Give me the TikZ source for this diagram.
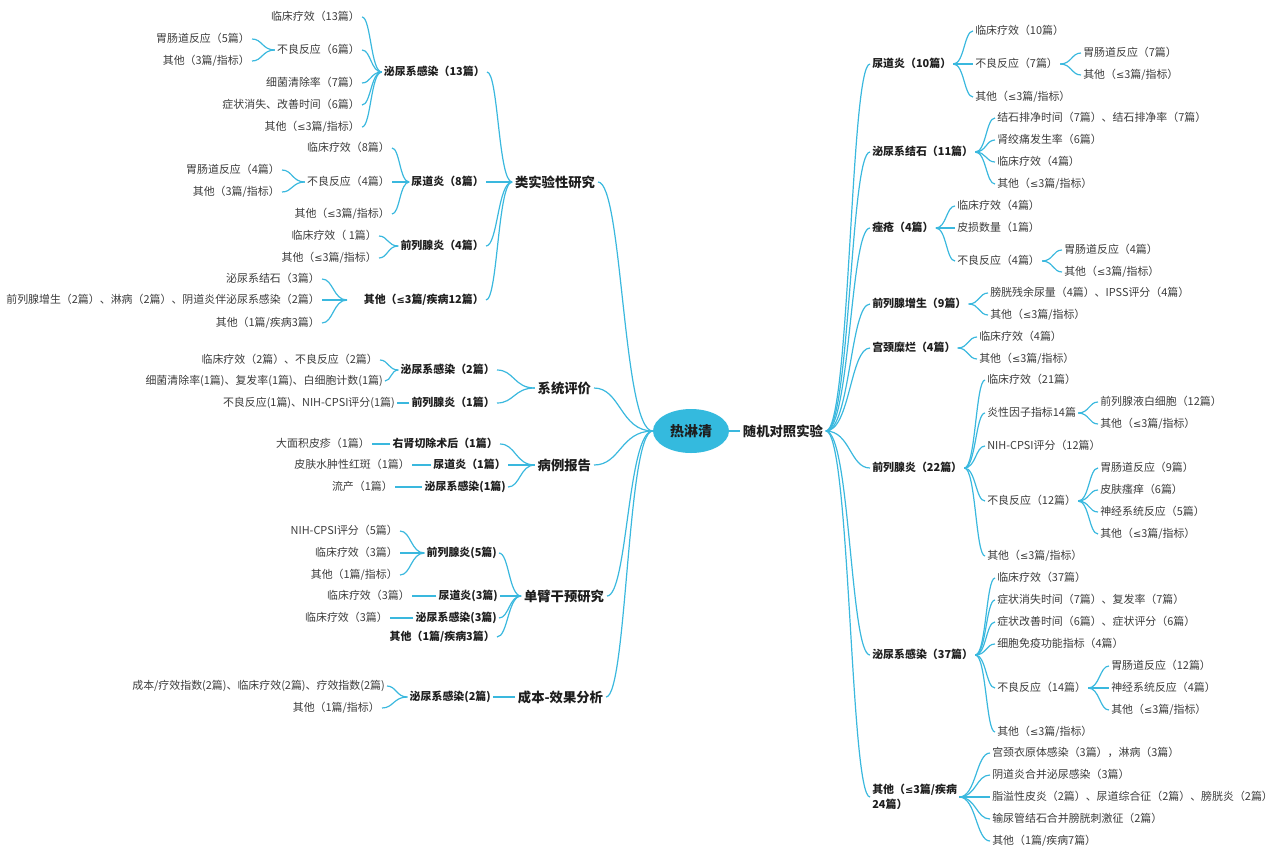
\documentclass[tikz,border=0pt]{standalone}
\usepackage{fontspec}
\setmainfont{Noto Sans CJK SC}
\newfontfamily\symf{DejaVu Sans}
\newcommand\lte{{\symf\fontsize{7.4pt}{9pt}\selectfont ≤}}
\usetikzlibrary{calc,shapes.geometric}
\definecolor{lc}{RGB}{58,184,222}
\definecolor{ell}{RGB}{52,186,222}
\definecolor{txt}{RGB}{60,60,60}
\definecolor{bt}{RGB}{30,30,30}
\newcommand\cx[2]{\draw[link] let \p1=(#1), \p2=(#2) in (\p1) .. controls ({0.45*\x1+0.55*\x2},\y1) and ({0.45*\x1+0.55*\x2},\y2) .. (\p2);}
\tikzset{
  lf/.style={font=\fontsize{8.2pt}{9.5pt}\selectfont, text=txt, inner sep=1.5pt, text height=6.6pt, text depth=1.6pt},
  bd/.style={font=\fontsize{8.2pt}{9.5pt}\selectfont\bfseries, text=bt, inner sep=1.5pt, text height=6.6pt, text depth=1.6pt},
  bd1/.style={font=\fontsize{10pt}{12pt}\selectfont\bfseries, text=bt, inner sep=2pt},
  L/.style={anchor=east}, R/.style={anchor=west},
  link/.style={draw=lc, line width=0.9pt}
}
\begin{document}
\begin{tikzpicture}[x=0.75pt,y=-0.75pt]
\useasboundingbox (0,0) rectangle (1279,847);
% centre
\node[ellipse, fill=ell, minimum width=57pt, minimum height=33pt, inner sep=0pt, font=\fontsize{10.5pt}{12pt}\selectfont\bfseries, text=bt] (E) at (691,431) {热淋清};
% ===== left level 1
\node[bd1,L] (Q) at (598,182) {类实验性研究};
\node[bd1,L] (S) at (594,388) {系统评价};
\node[bd1,L] (B) at (594,465) {病例报告};
\node[bd1,L] (D) at (607,596) {单臂干预研究};
\node[bd1,L] (C) at (606,697) {成本-效果分析};
% Q group
\node[bd,L] (Q1) at (487,72) {泌尿系感染（13篇）};
\node[lf,L] (Q11) at (362,17) {临床疗效（13篇）};
\node[lf,L] (Q12) at (362,50) {不良反应（6篇）};
\node[lf,L] (Q121) at (252,39) {胃肠道反应（5篇）};
\node[lf,L] (Q122) at (252,61) {其他（3篇/指标）};
\node[lf,L] (Q13) at (362,83) {细菌清除率（7篇）};
\node[lf,L] (Q14) at (362,105) {症状消失、改善时间（6篇）};
\node[lf,L] (Q15) at (362,127) {其他（\lte3篇/指标）};
\node[bd,L] (Q2) at (486,182) {尿道炎（8篇）};
\node[lf,L] (Q21) at (392,148) {临床疗效（8篇）};
\node[lf,L] (Q22) at (392,182) {不良反应（4篇）};
\node[lf,L] (Q221) at (282,170) {胃肠道反应（4篇）};
\node[lf,L] (Q222) at (282,192) {其他（3篇/指标）};
\node[lf,L] (Q23) at (392,214) {其他（\lte3篇/指标）};
\node[bd,L] (Q3) at (486,246) {前列腺炎（4篇）};
\node[lf,L] (Q31) at (379,236) {临床疗效（ 1篇）};
\node[lf,L] (Q32) at (379,258) {其他（\lte3篇/指标）};
\node[bd,L] (Q4) at (486,300) {其他（\lte3篇/疾病12篇）};
\coordinate (Q4j) at (347,300);
\node[lf,L] (Q41) at (322,279) {泌尿系结石（3篇）};
\node[lf,L] (Q42) at (322,300) {前列腺增生（2篇）、淋病（2篇）、阴道炎伴泌尿系感染（2篇）};
\node[lf,L] (Q43) at (322,323) {其他（1篇/疾病3篇）};
% S group
\node[bd,L] (S1) at (497,370) {泌尿系感染（2篇）};
\node[lf,L] (S11) at (380,360) {临床疗效（2篇）、不良反应（2篇）};
\node[lf,L] (S12) at (385,381) {细菌清除率(1篇)、复发率(1篇)、白细胞计数(1篇)};
\node[bd,L] (S2) at (497,403) {前列腺炎（1篇）};
\node[lf,L] (S21) at (397,403) {不良反应(1篇)、NIH-CPSI评分(1篇)};
% B group
\node[bd,L] (B1) at (500,444) {右肾切除术后（1篇）};
\node[lf,L] (B11) at (372,444) {大面积皮疹（1篇）};
\node[bd,L] (B2) at (508,465) {尿道炎（1篇）};
\node[lf,L] (B21) at (412,465) {皮肤水肿性红斑（1篇）};
\node[bd,L] (B3) at (508,487) {泌尿系感染(1篇)};
\node[lf,L] (B31) at (395,487) {流产（1篇）};
% D group
\node[bd,L] (D1) at (499,553) {前列腺炎(5篇)};
\node[lf,L] (D11) at (400,531) {NIH-CPSI评分（5篇）};
\node[lf,L] (D12) at (400,553) {临床疗效（3篇）};
\node[lf,L] (D13) at (400,575) {其他（1篇/指标）};
\node[bd,L] (D2) at (500,596) {尿道炎(3篇)};
\node[lf,L] (D21) at (412,596) {临床疗效（3篇）};
\node[bd,L] (D3) at (499,618) {泌尿系感染(3篇)};
\node[lf,L] (D31) at (390,618) {临床疗效（3篇）};
\node[bd,L] (D4) at (497,637) {其他（1篇/疾病3篇）};
% C group
\node[bd,L] (C1) at (493,697) {泌尿系感染(2篇)};
\node[lf,L] (C11) at (387,686) {成本/疗效指数(2篇)、临床疗效(2篇)、疗效指数(2篇)};
\node[lf,L] (C12) at (382,708) {其他（1篇/指标）};
% ===== right
\node[bd1,R] (R) at (740,431) {随机对照实验};
\node[bd,R] (R1) at (870,64) {尿道炎（10篇）};
\node[lf,R] (R11) at (973,31) {临床疗效（10篇）};
\node[lf,R] (R12) at (973,64) {不良反应（7篇）};
\node[lf,R] (R121) at (1081,53) {胃肠道反应（7篇）};
\node[lf,R] (R122) at (1081,75) {其他（\lte3篇/指标）};
\node[lf,R] (R13) at (973,97) {其他（\lte3篇/指标）};
\node[bd,R] (R2) at (870,152) {泌尿系结石（11篇）};
\node[lf,R] (R21) at (995,118) {结石排净时间（7篇）、结石排净率（7篇）};
\node[lf,R] (R22) at (995,140) {肾绞痛发生率（6篇）};
\node[lf,R] (R23) at (995,162) {临床疗效（4篇）};
\node[lf,R] (R24) at (995,184) {其他（\lte3篇/指标）};
\node[bd,R] (R3) at (870,228) {痤疮（4篇）};
\node[lf,R] (R31) at (955,206) {临床疗效（4篇）};
\node[lf,R] (R32) at (955,228) {皮损数量（1篇）};
\node[lf,R] (R33) at (955,261) {不良反应（4篇）};
\node[lf,R] (R331) at (1062,250) {胃肠道反应（4篇）};
\node[lf,R] (R332) at (1062,272) {其他（\lte3篇/指标）};
\node[bd,R] (R4) at (870,304) {前列腺增生（9篇）};
\node[lf,R] (R41) at (988,293) {膀胱残余尿量（4篇）、IPSS评分（4篇）};
\node[lf,R] (R42) at (988,315) {其他（\lte3篇/指标）};
\node[bd,R] (R5) at (870,348) {宫颈糜烂（4篇）};
\node[lf,R] (R51) at (977,337) {临床疗效（4篇）};
\node[lf,R] (R52) at (977,359) {其他（\lte3篇/指标）};
\node[bd,R] (R6) at (870,468) {前列腺炎（22篇）};
\node[lf,R] (R61) at (985,380) {临床疗效（21篇）};
\node[lf,R] (R62) at (985,413) {炎性因子指标14篇};
\node[lf,R] (R621) at (1098,402) {前列腺液白细胞（12篇）};
\node[lf,R] (R622) at (1098,424) {其他（\lte3篇/指标）};
\node[lf,R] (R63) at (985,446) {NIH-CPSI评分（12篇）};
\node[lf,R] (R64) at (985,501) {不良反应（12篇）};
\node[lf,R] (R641) at (1098,468) {胃肠道反应（9篇）};
\node[lf,R] (R642) at (1098,490) {皮肤瘙痒（6篇）};
\node[lf,R] (R643) at (1098,512) {神经系统反应（5篇）};
\node[lf,R] (R644) at (1098,534) {其他（\lte3篇/指标）};
\node[lf,R] (R65) at (985,556) {其他（\lte3篇/指标）};
\node[bd,R] (R7) at (870,655) {泌尿系感染（37篇）};
\node[lf,R] (R71) at (995,578) {临床疗效（37篇）};
\node[lf,R] (R72) at (995,600) {症状消失时间（7篇）、复发率（7篇）};
\node[lf,R] (R73) at (995,622) {症状改善时间（6篇）、症状评分（6篇）};
\node[lf,R] (R74) at (995,644) {细胞免疫功能指标（4篇）};
\node[lf,R] (R75) at (995,688) {不良反应（14篇）};
\node[lf,R] (R751) at (1109,666) {胃肠道反应（12篇）};
\node[lf,R] (R752) at (1109,688) {神经系统反应（4篇）};
\node[lf,R] (R753) at (1109,710) {其他（\lte3篇/指标）};
\node[lf,R] (R76) at (995,732) {其他（\lte3篇/指标）};
\node[R, font=\fontsize{8.2pt}{11.5pt}\selectfont\bfseries, text=bt, inner sep=1.5pt, align=left] (R8) at (870,797) {其他（\lte3篇/疾病\\24篇）};
\node[lf,R] (R81) at (990,753) {宫颈衣原体感染（3篇），淋病（3篇）};
\node[lf,R] (R82) at (990,775) {阴道炎合并泌尿感染（3篇）};
\node[lf,R] (R83) at (990,797) {脂溢性皮炎（2篇）、尿道综合征（2篇）、膀胱炎（2篇）};
\node[lf,R] (R84) at (990,819) {输尿管结石合并膀胱刺激征（2篇）};
\node[lf,R] (R85) at (990,841) {其他（1篇/疾病7篇）};
% ===== connectors left
\foreach \a/\b in {E.west/Q.east, E.west/S.east, E.west/B.east, E.west/D.east, E.west/C.east,
  Q.west/Q1.east, Q.west/Q2.east, Q.west/Q3.east, Q.west/Q4.east,
  Q1.west/Q11.east, Q1.west/Q12.east, Q1.west/Q13.east, Q1.west/Q14.east, Q1.west/Q15.east,
  Q12.west/Q121.east, Q12.west/Q122.east,
  Q2.west/Q21.east, Q2.west/Q22.east, Q2.west/Q23.east, Q22.west/Q221.east, Q22.west/Q222.east,
  Q3.west/Q31.east, Q3.west/Q32.east,
  Q4j/Q41.east, Q4j/Q42.east, Q4j/Q43.east,
  S.west/S1.east, S.west/S2.east, S1.west/S11.east, S1.west/S12.east, S2.west/S21.east,
  B.west/B1.east, B.west/B2.east, B.west/B3.east, B1.west/B11.east, B2.west/B21.east, B3.west/B31.east,
  D.west/D1.east, D.west/D2.east, D.west/D3.east, D.west/D4.east,
  D1.west/D11.east, D1.west/D12.east, D1.west/D13.east, D2.west/D21.east, D3.west/D31.east,
  C.west/C1.east, C1.west/C11.east, C1.west/C12.east}
  {\cx{\a}{\b}}
% ===== connectors right
\foreach \a/\b in {E.east/R.west,
  R.east/R1.west, R.east/R2.west, R.east/R3.west, R.east/R4.west, R.east/R5.west, R.east/R6.west, R.east/R7.west, R.east/R8.west,
  R1.east/R11.west, R1.east/R12.west, R1.east/R13.west, R12.east/R121.west, R12.east/R122.west,
  R2.east/R21.west, R2.east/R22.west, R2.east/R23.west, R2.east/R24.west,
  R3.east/R31.west, R3.east/R32.west, R3.east/R33.west, R33.east/R331.west, R33.east/R332.west,
  R4.east/R41.west, R4.east/R42.west, R5.east/R51.west, R5.east/R52.west,
  R6.east/R61.west, R6.east/R62.west, R6.east/R63.west, R6.east/R64.west, R6.east/R65.west,
  R62.east/R621.west, R62.east/R622.west,
  R64.east/R641.west, R64.east/R642.west, R64.east/R643.west, R64.east/R644.west,
  R7.east/R71.west, R7.east/R72.west, R7.east/R73.west, R7.east/R74.west, R7.east/R75.west, R7.east/R76.west,
  R75.east/R751.west, R75.east/R752.west, R75.east/R753.west,
  R8.east/R81.west, R8.east/R82.west, R8.east/R83.west, R8.east/R84.west, R8.east/R85.west}
  {\cx{\a}{\b}}
\end{tikzpicture}
\end{document}
